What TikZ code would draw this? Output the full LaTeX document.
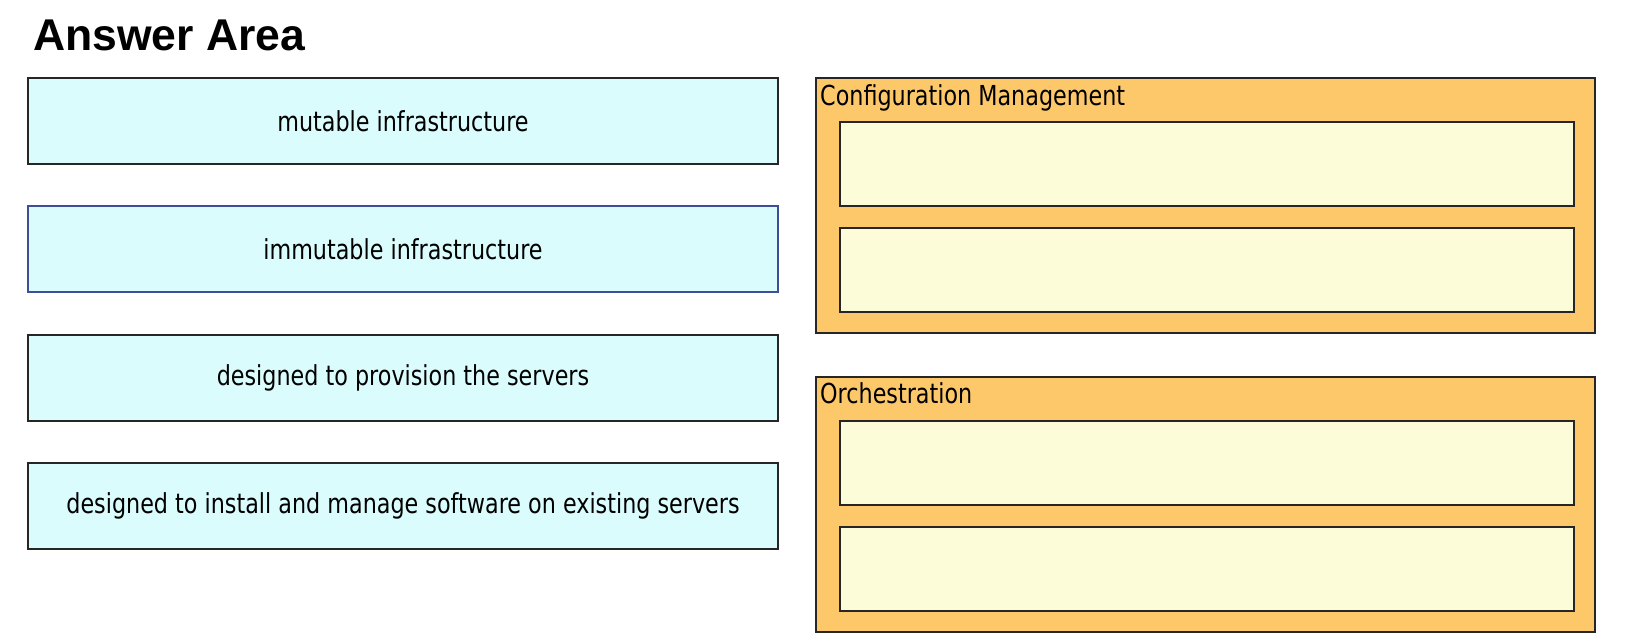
\documentclass[tikz,border=0pt]{standalone}
\usepackage{fontspec}
\setmainfont{Liberation Sans}
\newfontfamily\condfont[FakeStretch=0.81]{DejaVu Sans}
\definecolor{cyanfill}{HTML}{DAFCFD}
\definecolor{orangefill}{HTML}{FDC86A}
\definecolor{yellowfill}{HTML}{FDFCD8}
\definecolor{boxline}{HTML}{262626}
\definecolor{blueline}{HTML}{3F4E9A}
\begin{document}
\begin{tikzpicture}[x=1pt,y=-1pt,
  choice/.style={draw=boxline,line width=1.5pt,fill=cyanfill,anchor=north west,
    minimum width=750pt,minimum height=86pt,inner sep=0pt,outer sep=0pt,
    font=\condfont\fontsize{27.5}{32}\selectfont},
  group/.style={draw=boxline,line width=1.5pt,fill=orangefill,anchor=north west,
    minimum width=779pt,minimum height=255pt,inner sep=0pt,outer sep=0pt},
  slot/.style={draw=boxline,line width=1.5pt,fill=yellowfill,anchor=north west,
    minimum width=734pt,minimum height=84pt,inner sep=0pt,outer sep=0pt},
  grouplabel/.style={anchor=base west,inner sep=0pt,font=\condfont\fontsize{27.5}{32}\selectfont}]
\useasboundingbox[fill=white] (0,0) rectangle (1642,640);
\node[anchor=base west,inner sep=0pt,font=\bfseries\fontsize{44.5}{50}\selectfont] (title) at (33,50) {Answer Area};
\node[choice] (c1) at (28,78) {mutable infrastructure};
\node[choice,draw=blueline] (c2) at (28,206) {immutable infrastructure};
\node[choice] (c3) at (28,335) {designed to provision the servers};
\node[choice] (c4) at (28,463) {designed to install and manage software on existing servers};
\node[group] (g1) at (816,78) {};
\node[grouplabel] (l1) at (820,105) {Configuration Management};
\node[slot] (s1) at (840,122) {};
\node[slot] (s2) at (840,228) {};
\node[group] (g2) at (816,377) {};
\node[grouplabel] (l2) at (820,403) {Orchestration};
\node[slot] (s3) at (840,421) {};
\node[slot] (s4) at (840,527) {};
\end{tikzpicture}
\end{document}
